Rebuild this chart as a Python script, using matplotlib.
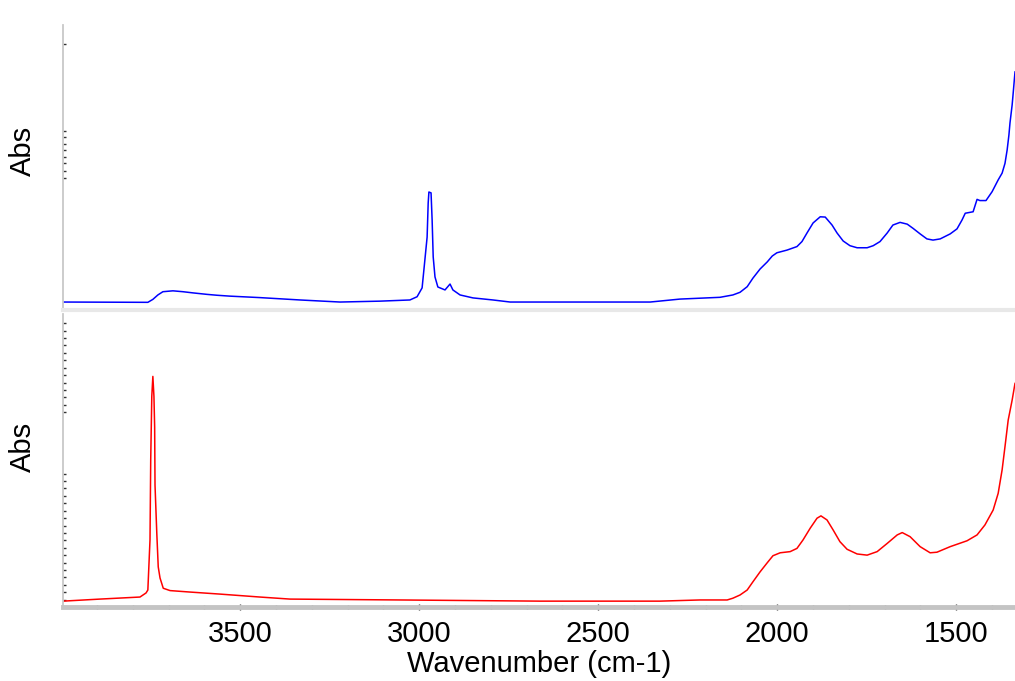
import numpy as np
import matplotlib.pyplot as plt

plt.rcParams['font.family'] = ['Liberation Sans', 'DejaVu Sans']

# upper spectrum (blue), wavenumber in cm-1 and absorbance (arb.)
wn_top = [3995, 3758, 3744, 3730, 3716, 3688, 3660, 3632, 3593, 3565, 3529, 3445,
          3333, 3221, 3110, 3026, 3006, 2992, 2987, 2978, 2975, 2973, 2967, 2964,
          2961, 2956, 2948, 2928, 2914, 2906, 2886, 2850, 2794, 2746, 2355, 2272,
          2160, 2124, 2104, 2084, 2068, 2048, 2028, 2014, 2001, 1973, 1945, 1931,
          1917, 1900, 1880, 1866, 1847, 1833, 1816, 1797, 1777, 1749, 1732, 1713,
          1693, 1677, 1657, 1637, 1621, 1601, 1582, 1565, 1545, 1517, 1498, 1484,
          1475, 1453, 1442, 1434, 1417, 1400, 1383, 1372, 1364, 1358, 1353, 1350,
          1344, 1342, 1336]
abs_top = [0.027, 0.026, 0.036, 0.051, 0.062, 0.065, 0.062, 0.058, 0.053, 0.050,
           0.047, 0.042, 0.034, 0.027, 0.030, 0.034, 0.045, 0.075, 0.136, 0.247,
           0.363, 0.400, 0.397, 0.305, 0.180, 0.112, 0.078, 0.068, 0.088, 0.068,
           0.051, 0.041, 0.034, 0.027, 0.027, 0.037, 0.043, 0.051, 0.060, 0.079,
           0.108, 0.139, 0.163, 0.183, 0.194, 0.203, 0.215, 0.232, 0.261, 0.295,
           0.316, 0.315, 0.288, 0.261, 0.234, 0.218, 0.211, 0.211, 0.218, 0.232,
           0.261, 0.288, 0.297, 0.291, 0.277, 0.258, 0.241, 0.237, 0.241, 0.258,
           0.275, 0.305, 0.328, 0.333, 0.375, 0.371, 0.371, 0.401, 0.441, 0.464,
           0.497, 0.542, 0.593, 0.634, 0.695, 0.722, 0.807]

# lower spectrum (red)
wn_bot = [3995, 3892, 3780, 3763, 3758, 3752, 3750, 3747, 3744, 3741, 3739, 3738,
          3733, 3729, 3724, 3715, 3696, 3640, 3556, 3445, 3361, 3054, 2663, 2328,
          2216, 2140, 2124, 2104, 2084, 2068, 2048, 2028, 2012, 1992, 1964, 1945,
          1928, 1908, 1889, 1878, 1861, 1844, 1825, 1805, 1777, 1749, 1721, 1693,
          1665, 1651, 1629, 1601, 1573, 1554, 1517, 1470, 1442, 1420, 1397, 1383,
          1372, 1364, 1355, 1344, 1336]
abs_bot = [0.020, 0.027, 0.034, 0.048, 0.058, 0.229, 0.502, 0.719, 0.787, 0.719,
           0.614, 0.416, 0.251, 0.137, 0.099, 0.064, 0.056, 0.051, 0.044, 0.034,
           0.027, 0.024, 0.020, 0.020, 0.024, 0.024, 0.030, 0.041, 0.058, 0.086,
           0.120, 0.151, 0.175, 0.185, 0.189, 0.200, 0.229, 0.269, 0.303, 0.311,
           0.297, 0.263, 0.223, 0.197, 0.181, 0.177, 0.189, 0.217, 0.246, 0.254,
           0.240, 0.206, 0.185, 0.187, 0.206, 0.226, 0.246, 0.280, 0.331, 0.388,
           0.468, 0.547, 0.638, 0.706, 0.763]

x_range = (3995, 1336)
x_major = [3500, 3000, 2500, 2000, 1500]
x_minor = list(range(3900, 1336, -100))

W, H = 1015, 681
fig = plt.figure(figsize=(W / 100, H / 100), dpi=100)

def frac(left, top, right, bottom):
    return [left / W, 1 - bottom / H, (right - left) / W, (bottom - top) / H]

ax1 = fig.add_axes(frac(63, 15, 1015, 310))
ax2 = fig.add_axes(frac(63, 314, 1015, 607))

ax1.plot(wn_top, abs_top, color='#0000ff', lw=1.1)
ax2.plot(wn_bot, abs_bot, color='#ff0000', lw=1.1)

for ax in (ax1, ax2):
    ax.set_xlim(x_range)
    ax.set_ylim(0, 1)
    ax.spines['top'].set_visible(False)
    ax.spines['right'].set_visible(False)
    ax.spines['left'].set_color('#c8c8c8')
    ax.spines['left'].set_linewidth(1.3)
    ax.set_ylabel('Abs', fontsize=21)
    ax.tick_params(axis='y', direction='in', length=2, width=1, color='#333333',
                   labelleft=False)

ax1.spines['left'].set_bounds(0, 0.966)
ax1.yaxis.set_label_coords(-0.027, 0.54)
ax2.yaxis.set_label_coords(-0.027, 0.545)

# unlabeled absorbance ticks
ax1.set_yticks([0.902, 0.607, 0.585, 0.563, 0.541, 0.519, 0.497, 0.472, 0.447])
ax2.set_yticks(list(np.arange(0.025, 0.47, 0.0253)) + list(np.arange(0.665, 0.97, 0.0253)))

ax1.spines['bottom'].set_color('#e8e8e8')
ax1.spines['bottom'].set_linewidth(3)
ax1.tick_params(axis='x', bottom=False, labelbottom=False)

ax2.spines['bottom'].set_color('#c4c4c4')
ax2.spines['bottom'].set_linewidth(3.5)
ax2.set_xticks(x_major)
ax2.set_xticks(x_minor, minor=True)
ax2.tick_params(axis='x', which='major', direction='inout', length=5, width=1,
                color='#333333', labelsize=21, pad=7)
ax2.tick_params(axis='x', which='minor', direction='inout', length=3, width=1,
                color='#333333')
ax2.set_xlabel('Wavenumber (cm-1)', fontsize=21, labelpad=1)

fig.savefig('out.png', dpi=100)
